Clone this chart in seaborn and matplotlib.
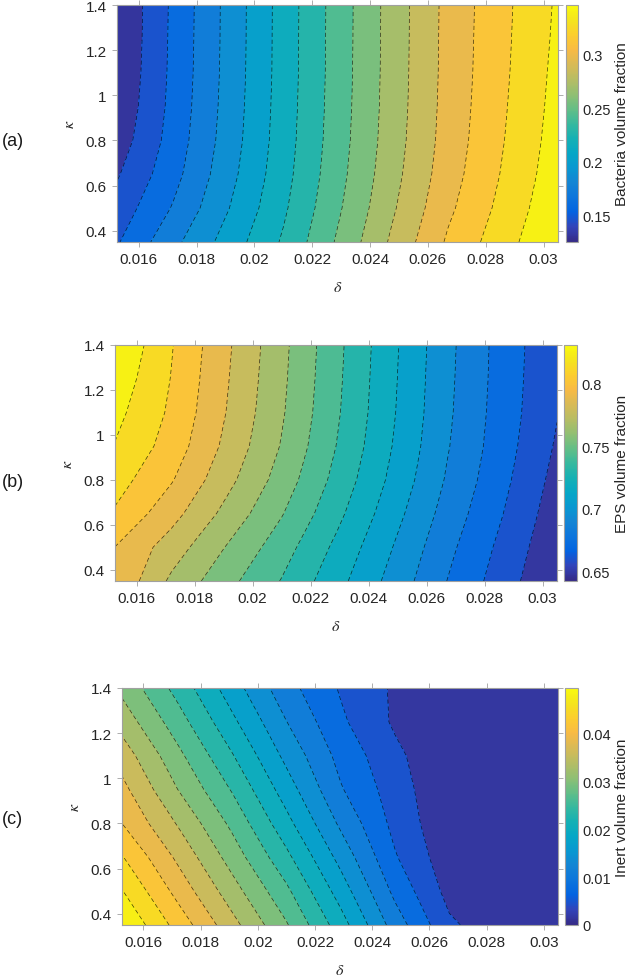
import numpy as np
import matplotlib
matplotlib.use("Agg")
import matplotlib.pyplot as plt
from matplotlib.colors import LinearSegmentedColormap, Normalize
from matplotlib.cm import ScalarMappable
from matplotlib.ticker import FuncFormatter
import seaborn as sns

# grid
delta = [0.01525, 0.0172, 0.0191, 0.0210, 0.0229, 0.0248, 0.0267, 0.0286, 0.0305]
kappa = [0.35, 0.5, 0.65, 0.8, 0.95, 1.1, 1.25, 1.4]

# rows = kappa (bottom -> top), columns = delta
bacteria = [
    [0.1517, 0.1770, 0.2003, 0.2238, 0.2516, 0.2800, 0.3067, 0.3266, 0.3460],
    [0.1448, 0.1681, 0.1939, 0.2196, 0.2476, 0.2756, 0.3019, 0.3226, 0.3427],
    [0.1379, 0.1622, 0.1896, 0.2169, 0.2450, 0.2727, 0.2986, 0.3197, 0.3402],
    [0.1317, 0.1589, 0.1871, 0.2154, 0.2435, 0.2710, 0.2968, 0.3179, 0.3385],
    [0.1283, 0.1573, 0.1860, 0.2147, 0.2428, 0.2702, 0.2960, 0.3168, 0.3372],
    [0.1266, 0.1565, 0.1853, 0.2142, 0.2424, 0.2698, 0.2955, 0.3159, 0.3362],
    [0.1258, 0.1561, 0.1850, 0.2141, 0.2422, 0.2696, 0.2953, 0.3154, 0.3351],
    [0.1255, 0.1558, 0.1849, 0.2140, 0.2421, 0.2695, 0.2951, 0.3150, 0.3343],
]

eps = [
    [0.7944, 0.7696, 0.7521, 0.7359, 0.7170, 0.6973, 0.6774, 0.6598, 0.6420],
    [0.7954, 0.7781, 0.7595, 0.7419, 0.7220, 0.7014, 0.6807, 0.6627, 0.6446],
    [0.8059, 0.7881, 0.7683, 0.7491, 0.7279, 0.7061, 0.6846, 0.6661, 0.6472],
    [0.8125, 0.7965, 0.7757, 0.7551, 0.7328, 0.7103, 0.6881, 0.6689, 0.6498],
    [0.8186, 0.8023, 0.7808, 0.7593, 0.7362, 0.7130, 0.6903, 0.6709, 0.6524],
    [0.8227, 0.8053, 0.7835, 0.7615, 0.7381, 0.7145, 0.6915, 0.6719, 0.6544],
    [0.8268, 0.8069, 0.7848, 0.7626, 0.7390, 0.7152, 0.6921, 0.6725, 0.6550],
    [0.8310, 0.8081, 0.7859, 0.7634, 0.7397, 0.7158, 0.6926, 0.6728, 0.6556],
]

inert = [
    [0.04950, 0.04217, 0.03511, 0.02815, 0.01996, 0.01095, 0.00365, 0.00093, 0.00006],
    [0.04656, 0.03920, 0.03230, 0.02543, 0.01714, 0.00848, 0.00204, 0.00046, 0.00003],
    [0.04353, 0.03651, 0.02961, 0.02246, 0.01442, 0.00647, 0.00114, 0.00025, 0.00002],
    [0.04022, 0.03378, 0.02713, 0.01958, 0.01179, 0.00526, 0.00062, 0.00015, 0.00001],
    [0.03805, 0.03094, 0.02450, 0.01702, 0.00956, 0.00461, 0.00037, 0.00009, 0.00001],
    [0.03573, 0.02868, 0.02190, 0.01463, 0.00826, 0.00384, 0.00025, 0.00006, 0.0],
    [0.03279, 0.02614, 0.01927, 0.01244, 0.00674, 0.00263, 0.00015, 0.00003, 0.0],
    [0.03016, 0.02367, 0.01689, 0.01040, 0.00588, 0.00263, 0.00012, 0.00003, 0.0],
]

panel_tags = ['(a)', '(b)', '(c)']
cbar_labels = ['Bacteria volume fraction', 'EPS volume fraction', 'Inert volume fraction']
cbar_ticks = [[0.15, 0.2, 0.25, 0.3], [0.65, 0.7, 0.75, 0.8], [0, 0.01, 0.02, 0.03, 0.04]]
x_ticks = [0.016, 0.018, 0.02, 0.022, 0.024, 0.026, 0.028, 0.03]
y_ticks = [0.4, 0.6, 0.8, 1, 1.2, 1.4]

# parula-like colormap
parula = LinearSegmentedColormap.from_list('parula', [
    (0.2081, 0.1663, 0.5292), (0.1959, 0.2645, 0.7279), (0.0117, 0.3875, 0.8820),
    (0.0498, 0.4586, 0.8641), (0.0793, 0.5200, 0.8312), (0.0343, 0.5966, 0.8199),
    (0.0228, 0.6535, 0.7768), (0.0843, 0.6928, 0.7062), (0.2178, 0.7250, 0.6193),
    (0.3953, 0.7459, 0.5244), (0.5709, 0.7485, 0.4494), (0.7184, 0.7411, 0.3905),
    (0.8507, 0.7299, 0.3360), (0.9739, 0.7314, 0.2666), (0.9880, 0.8066, 0.1794),
    (0.9589, 0.8949, 0.1132), (0.9763, 0.9831, 0.0538)], N=256)

sns.set_style('ticks')
plt.rcParams['font.family'] = ['Liberation Sans', 'DejaVu Sans']
plt.rcParams['mathtext.fontset'] = 'stix'
plt.rcParams['lines.scale_dashes'] = False
plt.rcParams['lines.dashed_pattern'] = [3.0, 2.0]

W, H = 630, 979
fig = plt.figure(figsize=(W / 100, H / 100), dpi=100)

# pixel boxes: left, right, top, bottom for axes and colorbar
ax_boxes = [(117, 558, 6, 243), (115, 557, 346, 582), (122, 558, 689, 926)]
cb_boxes = [(566, 578), (564, 577), (565, 578)]
tag_y = [142, 483, 820]

def rect(l, r, t, b):
    return [l / W, 1 - b / H, (r - l) / W, (b - t) / H]

fmt = FuncFormatter(lambda v, p: f'{v:g}')
X, Y = np.meshgrid(delta, kappa)

for i, Z in enumerate([bacteria, eps, inert]):
    Z = np.array(Z)
    l, r, t, b = ax_boxes[i]
    ax = fig.add_axes(rect(l, r, t, b))
    levels = np.linspace(Z.min(), Z.max(), 17)
    ax.contourf(X, Y, Z, levels=levels, cmap=parula)
    ax.contour(X, Y, Z, levels=levels[1:-1], colors='k', linewidths=0.5,
               linestyles='--', alpha=0.75)
    ax.set_xlim(delta[0], delta[-1])
    ax.set_ylim(kappa[0], kappa[-1])
    ax.set_xticks(x_ticks)
    ax.set_yticks(y_ticks)
    ax.xaxis.set_major_formatter(fmt)
    ax.yaxis.set_major_formatter(fmt)
    ax.tick_params(direction='out', length=3.5, width=0.6, color='#a0a0a0',
                   labelcolor='#262626', labelsize=11, top=True, right=True,
                   pad=4)
    for s in ax.spines.values():
        s.set_color('#a0a0a0')
        s.set_linewidth(0.8)
    ax.set_xlabel(r'$\delta$', fontsize=11.5, color='#262626', labelpad=9)
    ax.set_ylabel(r'$\kappa$', fontsize=11.5, color='#262626', labelpad=6)

    cl, cr = cb_boxes[i]
    cax = fig.add_axes(rect(cl, cr, t, b))
    sm = ScalarMappable(norm=Normalize(Z.min(), Z.max()), cmap=parula)
    cb = fig.colorbar(sm, cax=cax)
    cb.set_ticks(cbar_ticks[i])
    cb.ax.yaxis.set_major_formatter(fmt)
    cb.ax.tick_params(direction='in', length=3, width=0.6, color='#a0a0a0',
                      labelcolor='#262626', labelsize=10.5, pad=3)
    cb.outline.set_edgecolor('#a0a0a0')
    cb.outline.set_linewidth(0.8)
    # colorbar label placed by hand so it stays inside the canvas
    fig.text(615 / W, 1 - (t + b) / 2 / H, cbar_labels[i], fontsize=11,
             color='#262626', rotation=90, ha='left', va='center')

    fig.text(2 / W, 1 - tag_y[i] / H, panel_tags[i], fontsize=13,
             color='#1a1a1a', ha='left', va='center')

fig.savefig('out.png', dpi=100)
